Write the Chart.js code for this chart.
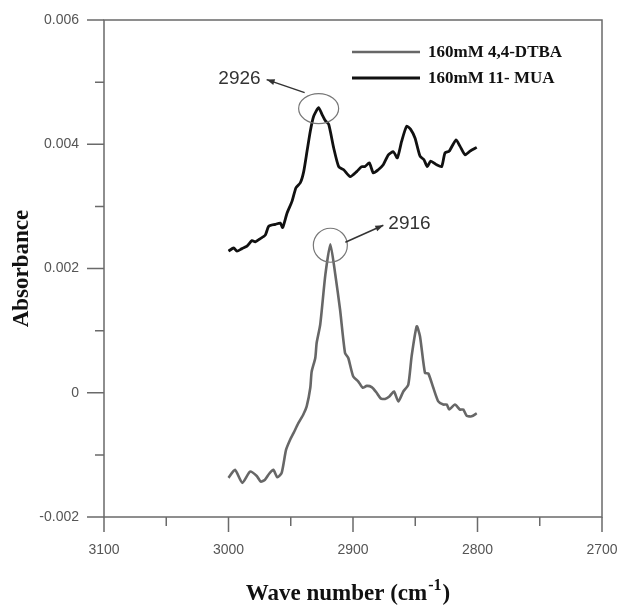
<!DOCTYPE html>
<html>
<head>
<meta charset="utf-8">
<script src="https://cdn.jsdelivr.net/npm/chart.js@4"></script>
<style>
  body { margin: 0; background: #fff; }
  canvas { display: block; }
</style>
</head>
<body>
<canvas id="chart" width="619" height="605"></canvas>
<script>
// series names and the peak positions called out on the plot
const seriesNames = ['160mM 4,4-DTBA', '160mM 11- MUA'];
const peakLabels = ['2916', '2926'];

// axis ticks
const xTickValues = [3100, 3000, 2900, 2800, 2700];
const yTickValues = [-0.002, 0, 0.002, 0.004, 0.006];

// 160mM 4,4-DTBA (grey)
const dtbaWave = [3000, 2994.8, 2988.9, 2982.7, 2977.3, 2974.1, 2970.7, 2967.2, 2964, 2960.8,
  2957.3, 2953.8, 2950.6, 2947.8, 2943.9, 2939.9, 2937.2, 2934.3, 2933.2, 2930.3,
  2929.2, 2926.3, 2922.2, 2918.2, 2914.2, 2910.4, 2906.4, 2903.8, 2899.8, 2895.7,
  2892.2, 2889, 2885, 2881, 2877.8, 2874.3, 2870.8, 2867.1, 2863.6, 2859.6,
  2855.6, 2852.9, 2848.8, 2846.2, 2842.2, 2839.5, 2835.5, 2831.5, 2827.5, 2824.7,
  2822.7, 2818.1, 2814.1, 2811.4, 2808.7, 2804.7, 2800.6];
const dtbaAbs = [-0.00137, -0.00124, -0.00145, -0.00127, -0.00134, -0.00143, -0.00140, -0.00130, -0.00124, -0.00136,
  -0.00129, -0.00092, -0.00076, -0.00065, -0.00049, -0.00035, -0.00022, 0.00008, 0.00034, 0.00056,
  0.00080, 0.00110, 0.00190, 0.00239, 0.00190, 0.00134, 0.00064, 0.00056, 0.00026, 0.00018,
  0.00008, 0.00011, 0.00009, 0.00000, -0.00009, -0.00010, -0.00006, 0.00002, -0.00014, 0.00002,
  0.00013, 0.00059, 0.00107, 0.00091, 0.00032, 0.00031, 0.00008, -0.00014, -0.00019, -0.00019,
  -0.00027, -0.00019, -0.00027, -0.00027, -0.00037, -0.00038, -0.00033];

// 160mM 11- MUA (black)
const muaWave = [3000, 2995.8, 2993.2, 2989.2, 2985.1, 2981.1, 2978.5, 2974.5, 2970.4, 2967.7,
  2962.4, 2958.4, 2956.5, 2953, 2949, 2945.8, 2942.3, 2939.6, 2936.9, 2934.3,
  2931.6, 2927.6, 2924.9, 2922.2, 2919.5, 2915.5, 2911.5, 2907.5, 2902.2, 2897,
  2893, 2890.4, 2886.9, 2883.7, 2879.7, 2875.7, 2871.6, 2867.6, 2864.4, 2860.9,
  2856.9, 2853.7, 2850.2, 2846.2, 2843, 2840.3, 2837.6, 2832.8, 2828.8, 2826.1,
  2822.7, 2817.3, 2814.1, 2810, 2806, 2800.6];
const muaAbs = [0.00228, 0.00233, 0.00228, 0.00232, 0.00236, 0.00245, 0.00243, 0.00248, 0.00254, 0.00268,
  0.00271, 0.00273, 0.00266, 0.00289, 0.00308, 0.00330, 0.00338, 0.00356, 0.00389, 0.00421,
  0.00445, 0.00459, 0.00448, 0.00438, 0.00432, 0.00394, 0.00364, 0.00359, 0.00348, 0.00356,
  0.00364, 0.00364, 0.00370, 0.00354, 0.00359, 0.00367, 0.00383, 0.00388, 0.00378, 0.00405,
  0.00429, 0.00424, 0.00410, 0.00381, 0.00375, 0.00364, 0.00373, 0.00367, 0.00364, 0.00386,
  0.00389, 0.00407, 0.00397, 0.00383, 0.00389, 0.00395];

const toPoints = (xs, ys) => xs.map((x, i) => ({ x: x, y: ys[i] }));

const AXIS_COLOR = '#6a6a6a';
const LABEL_FONT = '"Liberation Sans", Arial, sans-serif';
const SERIF_FONT = '"Liberation Serif", "Times New Roman", serif';

// where each peak note goes, relative to the peak in pixels
const noteLayout = [
  { rx: 17, ry: 17, from: [15, -2], to: [53, -19], text: [58, -21], align: 'left' },
  { rx: 20, ry: 15, from: [-14, -15], to: [-52, -28], text: [-58, -29], align: 'right' }
];

function minorValues(majors) {
  let out = [];
  for (let i = 0; i < majors.length - 1; i++) out.push((majors[i] + majors[i + 1]) / 2);
  return out;
}

function arrow(ctx, x1, y1, x2, y2) {
  ctx.beginPath();
  ctx.moveTo(x1, y1);
  ctx.lineTo(x2, y2);
  ctx.stroke();
  const a = Math.atan2(y2 - y1, x2 - x1);
  ctx.beginPath();
  ctx.moveTo(x2, y2);
  ctx.lineTo(x2 - 8 * Math.cos(a) + 3 * Math.sin(a), y2 - 8 * Math.sin(a) - 3 * Math.cos(a));
  ctx.lineTo(x2 - 8 * Math.cos(a) - 3 * Math.sin(a), y2 - 8 * Math.sin(a) + 3 * Math.cos(a));
  ctx.closePath();
  ctx.fill();
}

const decorPlugin = {
  id: 'decor',
  beforeDatasetsDraw(chart) {
    const { ctx, chartArea: a, scales: { x, y } } = chart;
    ctx.save();
    ctx.strokeStyle = AXIS_COLOR;
    ctx.lineWidth = 1.5;
    ctx.strokeRect(a.left, a.top, a.right - a.left, a.bottom - a.top);

    // tick marks, long for labelled values, short in between
    ctx.beginPath();
    xTickValues.forEach(v => {
      const px = x.getPixelForValue(v);
      ctx.moveTo(px, a.bottom); ctx.lineTo(px, a.bottom + 15);
    });
    minorValues(xTickValues).forEach(v => {
      const px = x.getPixelForValue(v);
      ctx.moveTo(px, a.bottom); ctx.lineTo(px, a.bottom + 9);
    });
    yTickValues.forEach(v => {
      const py = y.getPixelForValue(v);
      ctx.moveTo(a.left, py); ctx.lineTo(a.left - 17, py);
    });
    minorValues(yTickValues).forEach(v => {
      const py = y.getPixelForValue(v);
      ctx.moveTo(a.left, py); ctx.lineTo(a.left - 9, py);
    });
    ctx.stroke();
    ctx.restore();
  },
  afterDatasetsDraw(chart) {
    const { ctx, scales: { x, y } } = chart;
    ctx.save();

    // circled peaks with arrows and wavenumber labels
    chart.data.datasets.forEach((ds, i) => {
      let top = ds.data[0];
      ds.data.forEach(p => { if (p.y > top.y) top = p; });
      const px = x.getPixelForValue(top.x);
      const py = y.getPixelForValue(top.y);
      const n = noteLayout[i];
      ctx.strokeStyle = '#777';
      ctx.lineWidth = 1.2;
      ctx.beginPath();
      ctx.ellipse(px, py + 1, n.rx, n.ry, 0, 0, Math.PI * 2);
      ctx.stroke();
      ctx.strokeStyle = '#333';
      ctx.fillStyle = '#333';
      ctx.lineWidth = 1.5;
      arrow(ctx, px + n.from[0], py + n.from[1], px + n.to[0], py + n.to[1]);
      ctx.font = '19px ' + LABEL_FONT;
      ctx.fillStyle = '#333';
      ctx.textAlign = n.align;
      ctx.textBaseline = 'middle';
      ctx.fillText(peakLabels[i], px + n.text[0], py + n.text[1]);
    });

    // legend, top right inside the frame
    chart.data.datasets.forEach((ds, i) => {
      const ly = 52 + i * 26;
      ctx.strokeStyle = ds.borderColor;
      ctx.lineWidth = ds.borderWidth;
      ctx.beginPath();
      ctx.moveTo(352, ly); ctx.lineTo(420, ly);
      ctx.stroke();
      ctx.font = 'bold 17px ' + SERIF_FONT;
      ctx.fillStyle = '#111';
      ctx.textAlign = 'left';
      ctx.textBaseline = 'middle';
      ctx.fillText(ds.label, 428, ly + 1);
    });

    // x axis title with a raised -1
    const main = 'Wave number (cm', sup = '-1', close = ')';
    const bigFont = 'bold 23px ' + SERIF_FONT, smallFont = 'bold 16px ' + SERIF_FONT;
    ctx.font = bigFont;
    const w1 = ctx.measureText(main).width, w3 = ctx.measureText(close).width;
    ctx.font = smallFont;
    const w2 = ctx.measureText(sup).width;
    let tx = 347 - (w1 + w2 + w3) / 2;
    const base = 600;
    ctx.fillStyle = '#111';
    ctx.textAlign = 'left';
    ctx.textBaseline = 'alphabetic';
    ctx.font = bigFont;
    ctx.fillText(main, tx, base);
    ctx.font = smallFont;
    ctx.fillText(sup, tx + w1 + 1, base - 10);
    ctx.font = bigFont;
    ctx.fillText(close, tx + w1 + w2 + 2, base);
    ctx.restore();
  }
};

new Chart(document.getElementById('chart'), {
  type: 'scatter',
  data: {
    datasets: [
      {
        label: seriesNames[0],
        data: toPoints(dtbaWave, dtbaAbs),
        showLine: true,
        borderColor: '#676767',
        borderWidth: 2.6,
        pointRadius: 0,
        tension: 0.2
      },
      {
        label: seriesNames[1],
        data: toPoints(muaWave, muaAbs),
        showLine: true,
        borderColor: '#111',
        borderWidth: 2.8,
        pointRadius: 0,
        tension: 0.2
      }
    ]
  },
  options: {
    responsive: false,
    animation: false,
    layout: { padding: { top: 20, right: 17, left: 0, bottom: 0 } },
    plugins: {
      legend: { display: false },
      tooltip: { enabled: false }
    },
    scales: {
      x: {
        type: 'linear',
        reverse: true,
        min: 2700,
        max: 3100,
        afterBuildTicks: scale => { scale.ticks = xTickValues.map(v => ({ value: v })); },
        afterFit: scale => {
          scale.height = 88;
          scale.paddingLeft = 0;
          scale.paddingRight = 0;
        },
        grid: { display: false, drawTicks: false },
        border: { display: false },
        ticks: {
          padding: 25,
          color: '#555',
          font: { family: LABEL_FONT, size: 14 },
          maxRotation: 0,
          callback: v => String(v)
        }
      },
      y: {
        type: 'linear',
        min: -0.002,
        max: 0.006,
        afterBuildTicks: scale => { scale.ticks = yTickValues.map(v => ({ value: v })); },
        afterFit: scale => {
          scale.width = 104;
          scale.paddingTop = 0;
          scale.paddingBottom = 0;
        },
        grid: { display: false, drawTicks: false },
        border: { display: false },
        ticks: {
          padding: 25,
          color: '#555',
          font: { family: LABEL_FONT, size: 14 },
          callback: v => (v === 0 ? '0' : v.toFixed(3))
        },
        title: {
          display: true,
          text: 'Absorbance',
          color: '#111',
          font: { family: SERIF_FONT, size: 23, weight: 'bold' },
          padding: { top: 8, bottom: 0 }
        }
      }
    }
  },
  plugins: [decorPlugin]
});
</script>
</body>
</html>
